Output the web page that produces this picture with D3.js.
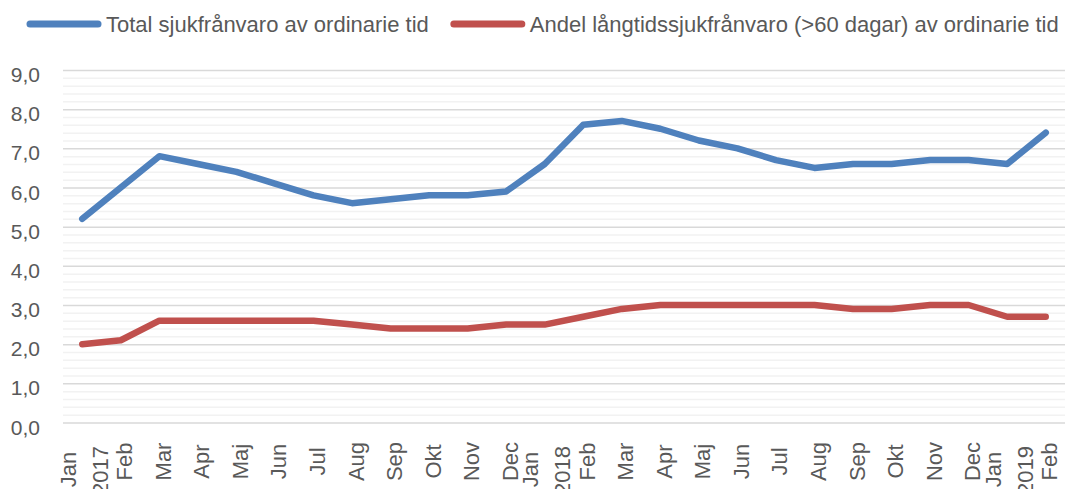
<!DOCTYPE html>
<html>
<head>
<meta charset="utf-8">
<script src="https://cdn.jsdelivr.net/npm/d3@7"></script>
<style>
	html, body { margin: 0; padding: 0; background: #fff; }
	svg { display: block; font-family: "Liberation Sans", Arial, sans-serif; }
	.grid-minor line { stroke: #f2f2f2; stroke-width: 1.5; }
	.grid-major line { stroke: #d9d9d9; stroke-width: 1.5; }
	.grid-minor path, .grid-major path, .y-axis path, .x-axis path { display: none; }
	.y-axis text, .x-axis text, .legend text { fill: #595959; }
</style>
</head>
<body>
<svg id="chart" width="1065" height="489"></svg>
<script>
// Months Jan 2017 - Feb 2019
var months = ["Jan", "Feb", "Mar", "Apr", "Maj", "Jun", "Jul", "Aug", "Sep", "Okt", "Nov", "Dec",
	"Jan", "Feb", "Mar", "Apr", "Maj", "Jun", "Jul", "Aug", "Sep", "Okt", "Nov", "Dec",
	"Jan", "Feb"];
var years = ["2017", "2017", "2017", "2017", "2017", "2017", "2017", "2017", "2017", "2017", "2017", "2017",
	"2018", "2018", "2018", "2018", "2018", "2018", "2018", "2018", "2018", "2018", "2018", "2018",
	"2019", "2019"];

var totalValues = [5.2, 6.0, 6.8, 6.6, 6.4, 6.1, 5.8, 5.6, 5.7, 5.8, 5.8, 5.9,
	6.6, 7.6, 7.7, 7.5, 7.2, 7.0, 6.7, 6.5, 6.6, 6.6, 6.7, 6.7,
	6.6, 7.4];
var longTermValues = [2.0, 2.1, 2.6, 2.6, 2.6, 2.6, 2.6, 2.5, 2.4, 2.4, 2.4, 2.5,
	2.5, 2.7, 2.9, 3.0, 3.0, 3.0, 3.0, 3.0, 2.9, 2.9, 3.0, 3.0,
	2.7, 2.7];

var seriesNames = ["Total sjukfrånvaro av ordinarie tid",
	"Andel långtidssjukfrånvaro (>60 dagar) av ordinarie tid"];
var seriesColors = ["#4f81bd", "#c0504d"];

var yTicks = [0, 1, 2, 3, 4, 5, 6, 7, 8, 9];
var yMinorStep = 0.2;

var svg = d3.select("#chart"),
	plotLeft = 63,
	plotRight = 1065,
	plotTop = 70,
	plotBottom = 422.5,
	plotWidth = plotRight - plotLeft;

var x = d3.scalePoint()
	.domain(d3.range(months.length))
	.range([plotLeft, plotRight])
	.padding(0.5);

var y = d3.scaleLinear()
	.domain([0, 9])
	.range([plotBottom, plotTop]);

// Swedish style decimal comma
var sv = d3.formatLocale({ decimal: ",", thousands: " ", grouping: [3], currency: ["", " kr"] });
var fmt = sv.format(".1f");

// --- GRIDLINES --- //
var minorTicks = d3.range(0, 9 + 1e-6, yMinorStep).filter(function(v) {
	return Math.abs(v - Math.round(v)) > 1e-6;
});

svg.append("g")
	.attr("class", "grid-minor")
	.attr("transform", "translate(" + plotLeft + ",0)")
	.call(d3.axisLeft(y).tickValues(minorTicks).tickSize(-plotWidth).tickFormat(""));

svg.append("g")
	.attr("class", "grid-major")
	.attr("transform", "translate(" + plotLeft + ",0)")
	.call(d3.axisLeft(y).tickValues(yTicks).tickSize(-plotWidth).tickFormat(""));

// --- Y AXIS LABELS --- //
svg.append("g")
	.attr("class", "y-axis")
	.attr("transform", "translate(" + plotLeft + ",0)")
	.call(d3.axisLeft(y).tickValues(yTicks).tickSize(0).tickPadding(23).tickFormat(fmt))
	.call(function(g) {
		g.selectAll("text")
			.attr("font-size", 21)
			.attr("font-family", "Liberation Sans, Arial, sans-serif")
			.attr("dy", "0.55em");
	});

// --- X AXIS LABELS --- //
var xAxis = svg.append("g")
	.attr("class", "x-axis")
	.attr("transform", "translate(0," + plotBottom + ")")
	.call(d3.axisBottom(x).tickSize(0).tickFormat(function(i) { return months[i]; }));

xAxis.selectAll(".tick").each(function(i) {
	var tick = d3.select(this),
		newYear = (i === 0 || years[i] !== years[i - 1]);

	tick.select("text")
		.attr("font-size", 22)
		.attr("font-family", "Liberation Sans, Arial, sans-serif")
		.attr("text-anchor", "middle")
		.attr("x", 0).attr("y", 0).attr("dy", 0)
		.attr("transform", "translate(" + (newYear ? -7 : 11) + "," + (newYear ? 47 : 39) + ") rotate(-90)");

	// year goes next to the first month of the year
	if (newYear) {
		tick.append("text")
			.attr("font-size", 22)
			.attr("font-family", "Liberation Sans, Arial, sans-serif")
			.attr("fill", "#595959")
			.attr("text-anchor", "middle")
			.attr("transform", "translate(25,48) rotate(-90)")
			.text(years[i]);
	}
});

// --- LINES --- //
var line = d3.line()
	.x(function(d, i) { return x(i); })
	.y(function(d) { return y(d); });

svg.selectAll(".series")
	.data([totalValues, longTermValues])
	.enter().append("path")
	.attr("class", "series")
	.attr("fill", "none")
	.attr("stroke", function(d, i) { return seriesColors[i]; })
	.attr("stroke-width", 6.5)
	.attr("stroke-linecap", "round")
	.attr("stroke-linejoin", "round")
	.attr("d", line);

// --- LEGEND --- //
var legend = svg.append("g").attr("class", "legend"),
	legendX = 30,
	legendY = 24;

seriesNames.forEach(function(name, i) {
	var item = legend.append("g").attr("transform", "translate(" + legendX + "," + legendY + ")");
	item.append("line")
		.attr("x1", 0).attr("x2", 68)
		.attr("y1", 0).attr("y2", 0)
		.attr("stroke", seriesColors[i])
		.attr("stroke-width", 7)
		.attr("stroke-linecap", "round");
	var txt = item.append("text")
		.attr("x", 76)
		.attr("y", 8)
		.attr("font-size", 22)
		.text(name);
	legendX += 76 + txt.node().getComputedTextLength() + 25;
});
</script>
</body>
</html>
